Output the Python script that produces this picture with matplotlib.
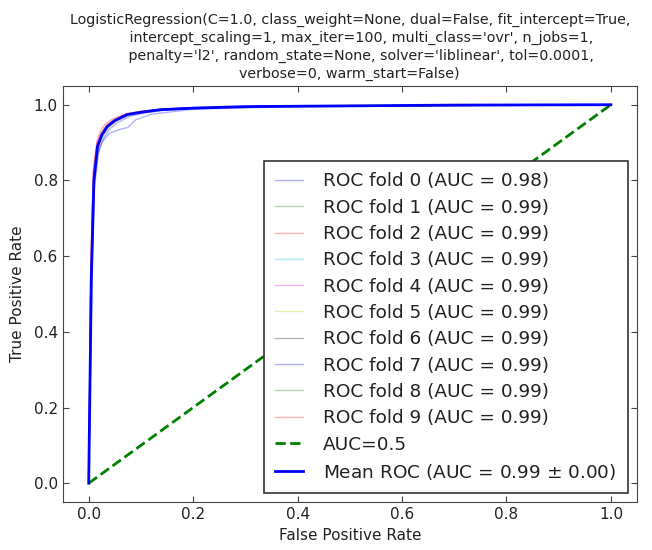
import matplotlib
matplotlib.use("Agg")
import matplotlib.pyplot as plt

title = ("LogisticRegression(C=1.0, class_weight=None, dual=False, fit_intercept=True,\n"
         "     intercept_scaling=1, max_iter=100, multi_class='ovr', n_jobs=1,\n"
         "     penalty='l2', random_state=None, solver='liblinear', tol=0.0001,\n"
         "verbose=0, warm_start=False)")

fold_colors = ['b', 'g', 'r', 'c', 'm', 'y', 'k', 'b', 'g', 'r']
fold_auc = [0.98, 0.99, 0.99, 0.99, 0.99, 0.99, 0.99, 0.99, 0.99, 0.99]

fold_fpr = [
    [0, 0.004, 0.008, 0.015, 0.025, 0.04, 0.05, 0.06, 0.075, 0.09, 0.12, 0.2, 0.4, 1.0],
    [0, 0.005, 0.010, 0.018, 0.028, 0.038, 0.055, 0.08, 0.11, 0.16, 0.25, 0.45, 1.0],
    [0, 0.004, 0.009, 0.015, 0.022, 0.032, 0.045, 0.07, 0.10, 0.15, 0.22, 0.40, 1.0],
    [0, 0.005, 0.010, 0.017, 0.026, 0.036, 0.05, 0.075, 0.10, 0.14, 0.20, 0.35, 1.0],
    [0, 0.004, 0.009, 0.016, 0.024, 0.035, 0.048, 0.072, 0.10, 0.14, 0.21, 0.38, 1.0],
    [0, 0.005, 0.011, 0.018, 0.027, 0.038, 0.052, 0.078, 0.11, 0.15, 0.22, 0.40, 1.0],
    [0, 0.005, 0.010, 0.017, 0.025, 0.036, 0.050, 0.074, 0.10, 0.14, 0.20, 0.33, 1.0],
    [0, 0.006, 0.011, 0.019, 0.028, 0.040, 0.055, 0.080, 0.11, 0.15, 0.23, 0.42, 1.0],
    [0, 0.005, 0.010, 0.016, 0.025, 0.035, 0.050, 0.073, 0.10, 0.14, 0.20, 0.36, 1.0],
    [0, 0.004, 0.009, 0.016, 0.024, 0.034, 0.048, 0.072, 0.10, 0.14, 0.20, 0.34, 1.0],
]
fold_tpr = [
    [0, 0.50, 0.76, 0.86, 0.90, 0.925, 0.93, 0.935, 0.94, 0.96, 0.975, 0.988, 0.995, 1.0],
    [0, 0.55, 0.80, 0.89, 0.92, 0.94, 0.96, 0.975, 0.982, 0.988, 0.993, 0.997, 1.0],
    [0, 0.58, 0.83, 0.90, 0.93, 0.95, 0.962, 0.976, 0.983, 0.989, 0.993, 0.997, 1.0],
    [0, 0.54, 0.80, 0.89, 0.92, 0.943, 0.958, 0.974, 0.981, 0.987, 0.992, 0.996, 1.0],
    [0, 0.57, 0.82, 0.90, 0.925, 0.947, 0.96, 0.975, 0.982, 0.988, 0.992, 0.996, 1.0],
    [0, 0.53, 0.79, 0.88, 0.915, 0.94, 0.955, 0.972, 0.980, 0.987, 0.992, 0.996, 1.0],
    [0, 0.55, 0.80, 0.89, 0.92, 0.944, 0.958, 0.974, 0.981, 0.987, 0.991, 0.996, 1.0],
    [0, 0.52, 0.78, 0.875, 0.91, 0.936, 0.952, 0.970, 0.979, 0.986, 0.991, 0.996, 1.0],
    [0, 0.56, 0.81, 0.89, 0.922, 0.945, 0.959, 0.975, 0.982, 0.988, 0.992, 0.996, 1.0],
    [0, 0.57, 0.82, 0.895, 0.925, 0.946, 0.96, 0.975, 0.982, 0.988, 0.992, 0.996, 1.0],
]

mean_fpr = [0, 0.005, 0.01, 0.017, 0.025, 0.036, 0.05, 0.074, 0.1, 0.138, 0.2, 0.3, 0.5, 0.7, 1.0]
mean_tpr = [0, 0.54, 0.80, 0.89, 0.92, 0.943, 0.958, 0.974, 0.980, 0.987, 0.991, 0.995, 0.997, 0.999, 1.0]
mean_auc = 0.99
std_auc = 0.00

fig = plt.figure(figsize=(6.52, 5.50), dpi=100)
ax = fig.add_axes([0.096, 0.087, 0.881, 0.757])

for i in range(10):
    ax.plot(fold_fpr[i], fold_tpr[i], color=fold_colors[i], lw=1, alpha=0.3,
            label='ROC fold %d (AUC = %0.2f)' % (i, fold_auc[i]))
ax.plot([0, 1], [0, 1], linestyle='--', lw=2, color=(0, 0.5, 0), label='AUC=0.5')
ax.plot(mean_fpr, mean_tpr, color='b', lw=2,
        label=r'Mean ROC (AUC = %0.2f $\pm$ %0.2f)' % (mean_auc, std_auc))

ax.set_xlim(-0.05, 1.05)
ax.set_ylim(-0.05, 1.05)
ax.set_xticks([0.0, 0.2, 0.4, 0.6, 0.8, 1.0])
ax.set_yticks([0.0, 0.2, 0.4, 0.6, 0.8, 1.0])
ax.tick_params(direction='in', top=True, right=True, labelsize=11, length=4,
               color='#444444', labelcolor='#222222')
for s in ax.spines.values():
    s.set_color('#444444')
ax.set_xlabel('False Positive Rate', fontsize=11, color='#222222', labelpad=4)
ax.set_ylabel('True Positive Rate', fontsize=11, color='#222222', labelpad=6)
ax.set_title(title, fontsize=10.3, linespacing=1.33, color='#222222', pad=6)
leg = ax.legend(loc='lower right', fontsize=13.3, fancybox=False, framealpha=1,
                edgecolor='#333333', handlelength=1.5, handletextpad=1.1,
                labelspacing=0.45, borderpad=0.6)
leg.get_frame().set_linewidth(1.2)
for t in leg.get_texts():
    t.set_color('#222222')

fig.savefig('out.png', dpi=100)
